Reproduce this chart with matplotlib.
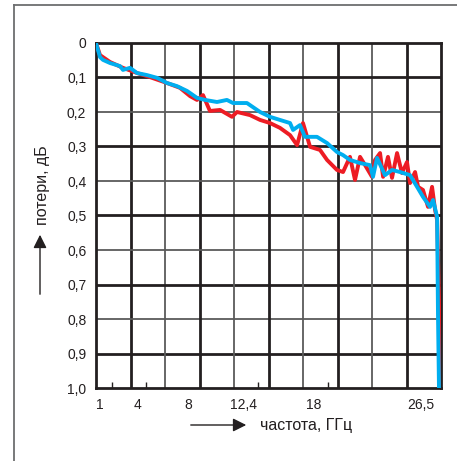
#!/usr/bin/env python3
"""Потери в зависимости от частоты (две кривые)."""
import matplotlib
matplotlib.use("Agg")
import matplotlib.pyplot as plt
from matplotlib.lines import Line2D

plt.rcParams["font.family"] = ["Liberation Sans", "DejaVu Sans"]

# данные
blue_freq = [0.70, 1.02, 1.26, 1.81, 2.61, 2.84, 3.40, 3.96, 4.75, 5.55, 6.34, 7.13,
             7.93, 8.72, 9.36, 10.31, 11.10, 11.58, 12.69, 13.73, 14.52, 15.31, 16.11,
             16.35, 16.90, 17.30, 18.25, 19.05, 19.84, 20.32, 20.87, 21.67, 22.46, 22.70,
             23.02, 23.65, 24.21, 24.85, 25.64, 26.20, 26.67, 27.23, 27.47, 27.79, 27.86,
             27.94]
blue_loss = [0.000, 0.041, 0.049, 0.058, 0.067, 0.078, 0.072, 0.087, 0.093, 0.101, 0.116,
             0.125, 0.139, 0.159, 0.165, 0.171, 0.165, 0.174, 0.174, 0.200, 0.214, 0.223,
             0.232, 0.252, 0.238, 0.272, 0.272, 0.290, 0.316, 0.325, 0.339, 0.348, 0.354,
             0.388, 0.333, 0.383, 0.368, 0.374, 0.383, 0.417, 0.446, 0.475, 0.455, 0.504,
             0.783, 1.000]

red_freq = [0.70, 1.02, 1.81, 2.84, 3.96, 4.99, 6.34, 7.37, 8.17, 8.72, 9.20, 9.75,
            10.55, 11.50, 11.90, 12.93, 13.73, 14.52, 15.31, 16.11, 16.67, 17.14, 17.70,
            18.49, 19.05, 19.84, 20.32, 20.87, 21.27, 21.67, 22.07, 22.62, 22.86, 23.26,
            23.50, 23.89, 24.21, 24.61, 25.00, 25.40, 25.64, 26.04, 26.28, 26.67, 27.07,
            27.39, 27.63, 27.79, 27.94, 28.02]
red_loss = [0.000, 0.035, 0.055, 0.072, 0.087, 0.099, 0.116, 0.130, 0.154, 0.165, 0.151,
            0.197, 0.194, 0.214, 0.200, 0.209, 0.223, 0.232, 0.246, 0.267, 0.296, 0.232,
            0.301, 0.310, 0.339, 0.368, 0.374, 0.330, 0.397, 0.330, 0.354, 0.388, 0.339,
            0.319, 0.388, 0.330, 0.391, 0.319, 0.377, 0.345, 0.406, 0.374, 0.417, 0.426,
            0.475, 0.417, 0.484, 0.513, 0.745, 1.000]

x_ticks = [1, 4, 8, 12.4, 18, 26.5]
x_labels = ["1", "4", "8", "12,4", "18", "26,5"]
x_minor = [2.0, 4.7, 13.6, 19.1]
y_ticks = [0.0, 0.1, 0.2, 0.3, 0.4, 0.5, 0.6, 0.7, 0.8, 0.9, 1.0]
y_labels = ["0", "0,1", "0,2", "0,3", "0,4", "0,5", "0,6", "0,7", "0,8", "0,9", "1,0"]

W, H = 457, 461
fig = plt.figure(figsize=(W / 100, H / 100), dpi=100)
ax = fig.add_axes([96 / W, 73 / H, 345 / W, 345 / H])

# сетка: чередование толстых и тонких линий
for k in range(1, 10):
    thick = k % 2 == 1
    c = "#231f20" if thick else "#5a5a5a"
    lw = 2.0 if thick else 1.3
    ax.plot([k / 10, k / 10], [0, 1], transform=ax.transAxes, color=c, lw=lw, zorder=1)
    ax.plot([0, 1], [k / 10, k / 10], transform=ax.transAxes, color=c, lw=lw, zorder=1)

ax.plot(red_freq, red_loss, color="#ed1c24", lw=2.8, zorder=3)
ax.plot(blue_freq, blue_loss, color="#00aeef", lw=2.8, zorder=4)

ax.set_xlim(0.7, 28.1)
ax.set_ylim(1.0, 0.0)
ax.set_xticks(x_ticks)
ax.set_xticklabels(x_labels)
ax.set_xticks(x_minor, minor=True)
ax.set_yticks(y_ticks)
ax.set_yticklabels(y_labels)
ax.tick_params(axis="both", which="major", length=0, labelsize=10, colors="#231f20")
ax.tick_params(axis="x", which="major", pad=7)
ax.tick_params(axis="y", which="major", pad=7)
ax.tick_params(axis="x", which="minor", direction="in", length=4, width=1, color="#231f20")
for s in ax.spines.values():
    s.set_linewidth(2.0)
    s.set_color("#231f20")

# подписи осей со стрелками
fig.text(43 / W, 1 - 185 / H, "потери, дБ", rotation=90, ha="center", va="center",
         fontsize=11.5, color="#231f20")
fig.add_artist(plt.Annotation("", xy=(40 / W, 1 - 232 / H), xytext=(40 / W, 1 - 297 / H),
                              xycoords="figure fraction",
                              arrowprops=dict(arrowstyle="-|>", color="#231f20", lw=1.0,
                                              mutation_scale=20)))
fig.text(260 / W, 1 - 425 / H, "частота, ГГц", ha="left", va="center",
         fontsize=11.5, color="#231f20")
fig.add_artist(plt.Annotation("", xy=(249 / W, 1 - 425 / H), xytext=(188 / W, 1 - 425 / H),
                              xycoords="figure fraction",
                              arrowprops=dict(arrowstyle="-|>", color="#231f20", lw=1.0,
                                              mutation_scale=20)))

# рамка вокруг рисунка (слева и сверху)
fig.add_artist(Line2D([14 / W, 14 / W], [0, 1 - 5 / H], color="#6d6e70", lw=1.3))
fig.add_artist(Line2D([14 / W, 1], [1 - 5 / H, 1 - 5 / H], color="#6d6e70", lw=1.3))

fig.savefig("out.png", dpi=100)
